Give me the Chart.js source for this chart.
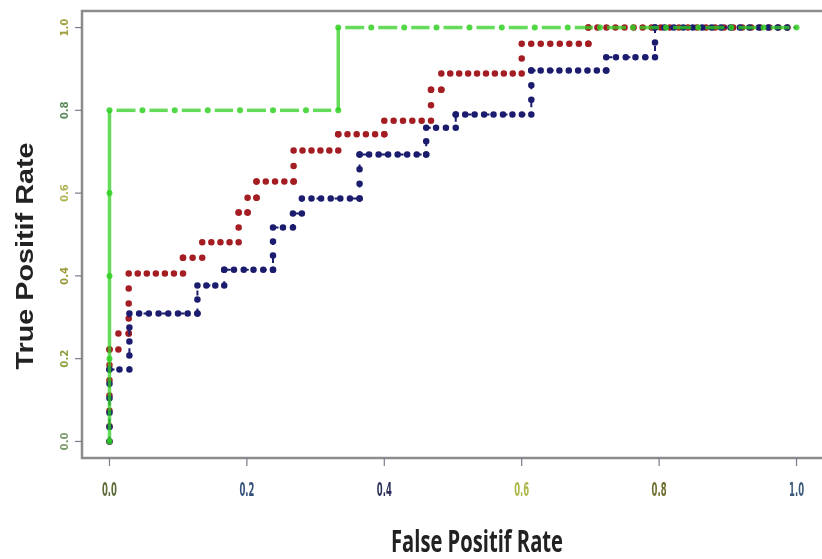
<!DOCTYPE html>
<html>
<head>
<meta charset="utf-8">
<script src="https://cdn.jsdelivr.net/npm/chart.js@4"></script>
<style>
html, body { margin: 0; padding: 0; background: #fff; overflow: hidden; }
canvas { display: block; }
</style>
</head>
<body>
<canvas id="roc" width="828" height="559"></canvas>
<script>
// ROC curves, values
const greenFpr = [0, 0, 0, 0, 0, 0.048, 0.095, 0.143, 0.19, 0.238, 0.286, 0.333, 0.333, 0.381, 0.429, 0.476, 0.524, 0.571, 0.619, 0.667, 0.714, 0.762, 0.81, 0.857, 0.905, 0.952, 1.0];
const greenTpr = [0, 0.2, 0.4, 0.6, 0.8, 0.8, 0.8, 0.8, 0.8, 0.8, 0.8, 0.8, 1.0, 1.0, 1.0, 1.0, 1.0, 1.0, 1.0, 1.0, 1.0, 1.0, 1.0, 1.0, 1.0, 1.0, 1.0];

const redFpr = [0, 0, 0.013, 0.013, 0.028, 0.028, 0.107, 0.107, 0.135, 0.135, 0.188, 0.188, 0.201, 0.201, 0.214, 0.214, 0.268, 0.268, 0.333, 0.333, 0.4, 0.4, 0.468, 0.468, 0.483, 0.483, 0.6, 0.6, 0.697, 0.697, 1.0];
const redTpr = [0, 0.222, 0.222, 0.261, 0.261, 0.406, 0.406, 0.444, 0.444, 0.481, 0.481, 0.553, 0.553, 0.589, 0.589, 0.628, 0.628, 0.703, 0.703, 0.742, 0.742, 0.775, 0.775, 0.85, 0.85, 0.889, 0.889, 0.961, 0.961, 1.0, 1.0];

const blueFpr = [0, 0, 0.029, 0.029, 0.128, 0.128, 0.167, 0.167, 0.238, 0.238, 0.267, 0.267, 0.28, 0.28, 0.364, 0.364, 0.461, 0.461, 0.504, 0.504, 0.614, 0.614, 0.723, 0.723, 0.794, 0.794, 1.0];
const blueTpr = [0, 0.174, 0.174, 0.309, 0.309, 0.377, 0.377, 0.415, 0.415, 0.517, 0.517, 0.551, 0.551, 0.587, 0.587, 0.693, 0.693, 0.758, 0.758, 0.79, 0.79, 0.896, 0.896, 0.928, 0.928, 1.0, 1.0];

const tickValues = [0, 0.2, 0.4, 0.6, 0.8, 1.0];
const tickLabels = ['0.0', '0.2', '0.4', '0.6', '0.8', '1.0'];
const xTickColors = ['#5b6a36', '#34507a', '#2a2f5a', '#aeb848', '#6d6d2d', '#3a5a7a'];
const yTickColors = ['#7a9a6a', '#8aa040', '#9a9a3a', '#b0b050', '#5a8a5a', '#a0a040'];

function pts(xs, ys) {
  return xs.map((x, i) => ({ x: x, y: ys[i] }));
}

// round dots, restarted on every segment so a dot sits on each corner
function dots(hStep, vStep) {
  return function (c) {
    const dx = c.p1.x - c.p0.x, dy = c.p1.y - c.p0.y;
    const len = Math.hypot(dx, dy);
    if (len < 0.5) return [0, 9];
    const want = Math.abs(dx) > Math.abs(dy) ? hStep : vStep;
    const n = Math.max(1, Math.round(len / want));
    return [0, len / n];
  };
}

function greenDash(c) {
  const dx = c.p1.x - c.p0.x, dy = c.p1.y - c.p0.y;
  if (Math.abs(dx) < Math.abs(dy)) return [];
  const len = Math.hypot(dx, dy);
  return [len - 14, 14];
}
function greenOffset(c) {
  const len = Math.hypot(c.p1.x - c.p0.x, c.p1.y - c.p0.y);
  return len - 7;
}

function fitText(g, txt, x, y, w, font, color, rot) {
  g.save();
  g.font = font;
  g.fillStyle = color;
  g.textAlign = 'center';
  g.textBaseline = 'alphabetic';
  g.translate(x, y);
  g.rotate(rot);
  const m = g.measureText(txt).width;
  g.scale(w / m, 1);
  g.fillText(txt, 0, 0);
  g.restore();
}

// R style box, ticks and titles
const frame = {
  id: 'frame',
  afterDraw(chart) {
    const g = chart.ctx;
    const a = chart.chartArea;
    const xs = chart.scales.x, ys = chart.scales.y;
    g.save();
    g.strokeStyle = '#8c8c8c';
    g.lineWidth = 2.5;
    g.strokeRect(a.left, a.top, a.right - a.left, a.bottom - a.top);
    g.lineWidth = 1.2;
    g.strokeStyle = '#7a7a8a';
    tickValues.forEach(function (v, i) {
      const px = xs.getPixelForValue(v);
      g.beginPath();
      g.moveTo(px, a.bottom);
      g.lineTo(px, a.bottom + 8);
      g.stroke();
      const py = ys.getPixelForValue(v);
      g.beginPath();
      g.moveTo(a.left, py);
      g.lineTo(a.left - 7, py);
      g.stroke();
      fitText(g, tickLabels[i], px, 496, 15, 'bold 19px "DejaVu Sans"', xTickColors[i], 0);
      fitText(g, tickLabels[i], 68, py, 18, 'bold 11px "DejaVu Sans"', yTickColors[i], -Math.PI / 2);
    });
    g.restore();
    fitText(g, 'False Positif Rate', 477, 552, 172, 'bold 30px "Open Sans"', '#222', 0);
    fitText(g, 'True Positif Rate', 33, 256, 227, 'bold 24px "Liberation Sans"', '#222', -Math.PI / 2);
  }
};

const ctx = document.getElementById('roc');
new Chart(ctx, {
  type: 'scatter',
  data: {
    datasets: [
      {
        label: 'green',
        data: pts(greenFpr, greenTpr),
        showLine: true,
        borderColor: 'rgba(48,208,35,0.75)',
        backgroundColor: 'rgba(48,208,35,0.85)',
        borderWidth: 3.5,
        borderDash: [20, 8],
        pointRadius: 3,
        pointBorderWidth: 0,
        segment: { borderDash: greenDash, borderDashOffset: greenOffset }
      },
      {
        label: 'blue',
        data: pts(blueFpr, blueTpr),
        showLine: true,
        borderColor: '#1b1c6e',
        borderWidth: 6.5,
        borderCapStyle: 'round',
        borderDash: [0, 9],
        pointRadius: 0,
        segment: { borderDash: dots(9.2, 14.3) }
      },
      {
        label: 'blue line',
        data: pts(blueFpr, blueTpr),
        showLine: true,
        borderColor: '#1b1c6e',
        borderWidth: 2,
        borderDash: [5, 13],
        pointRadius: 0
      },
      {
        label: 'red',
        data: pts(redFpr, redTpr),
        showLine: true,
        borderColor: '#a31d22',
        borderWidth: 6.5,
        borderCapStyle: 'round',
        borderDash: [0, 9],
        pointRadius: 0,
        segment: { borderDash: dots(9.2, 15.3) }
      }
    ]
  },
  options: {
    responsive: false,
    animation: false,
    layout: { padding: { left: 82, top: 11, right: 1, bottom: 101 } },
    plugins: { legend: { display: false }, tooltip: { enabled: false } },
    scales: {
      x: { type: 'linear', min: -0.04, max: 1.04, display: false },
      y: { type: 'linear', min: -0.04, max: 1.04, display: false }
    }
  },
  plugins: [frame]
});
</script>
</body>
</html>
